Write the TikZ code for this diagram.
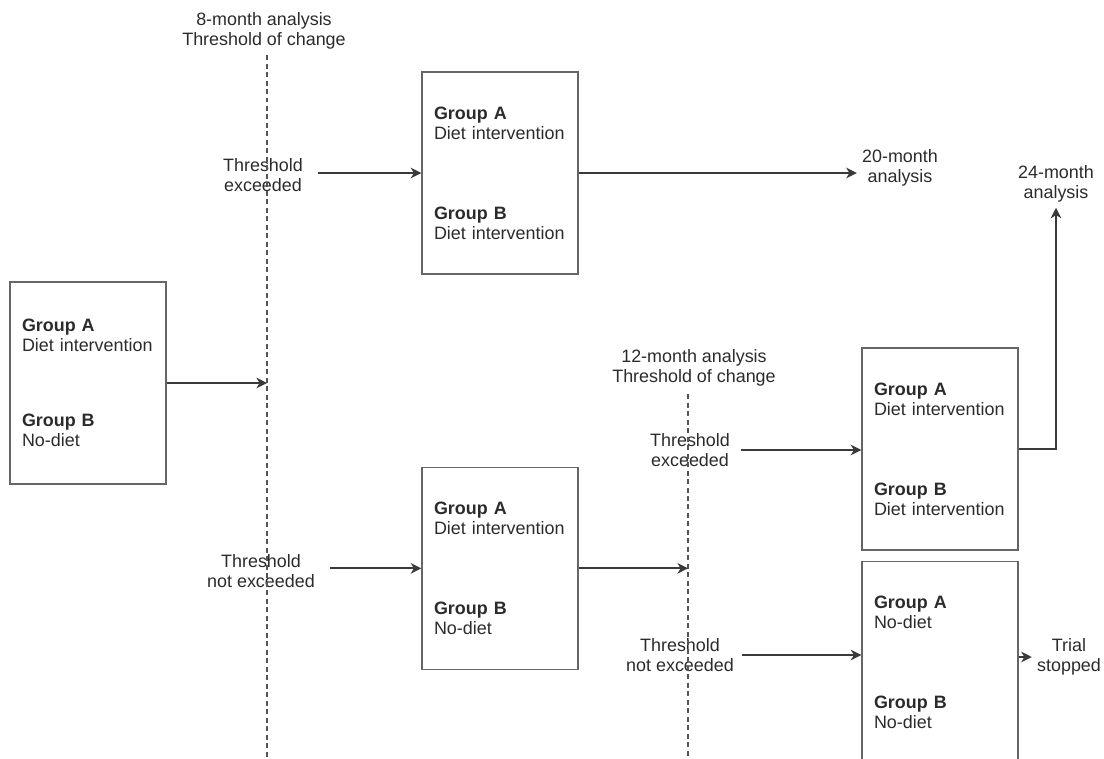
\documentclass[tikz,border=0pt]{standalone}
\usepackage{fontspec}
\setmainfont{Liberation Sans}
\usetikzlibrary{arrows.meta, positioning}
\definecolor{LineGray}{HTML}{3A3A3A}
\definecolor{BoxGray}{HTML}{666666}
\definecolor{TextGray}{HTML}{2B2B2B}
\definecolor{CutGray}{HTML}{555555}

\begin{document}
\begin{tikzpicture}[
    x=0.02cm, y=-0.02cm,
    font=\fontsize{10.2pt}{11.4pt}\selectfont,
    % Boxes holding both groups
    groupbox/.style={
            rectangle,
            draw=BoxGray,
            line width=0.8pt,
            minimum width=3.12cm,
            minimum height=4.04cm,
            text width=2.64cm,
            inner xsep=0.24cm,
            align=left,
            text=TextGray
        },
    % Labels beside the arrows
    tag/.style={
            align=center,
            inner sep=0.1cm,
            text=TextGray
        },
    % Arrows
    arrow/.style={
    -{Stealth[length=6pt,width=6pt,inset=1.8pt]},
    line width=1.2pt,
    color=LineGray
    },
    tagarrow/.style={
    arrow,
    shorten <=0.2cm
    },
    % Analysis time lines
    cutline/.style={
            dash pattern=on 0.1cm off 0.07cm,
            line width=0.6pt,
            color=CutGray
        }
    ]

    \useasboundingbox (0,0) rectangle (1104,758);

    % ========== START ==========
    \node[groupbox] (start) at (88,383) {\textbf{Group A}\\Diet intervention\\[1.1cm]\textbf{Group B}\\No-diet};

    % ========== 8-MONTH ANALYSIS ==========
    \node[tag] (an8) at (264,31) {8-month analysis\\Threshold of change};
    \coordinate (cut8top) at (267,55);
    \coordinate (cut8bot) at (267,760);
    \node[tag] (thrA) at (263,175) {Threshold\\exceeded};
    \node[tag] (thrB) at (261,571) {Threshold\\not exceeded};

    \node[groupbox] (boxUp) at (500,173) {\textbf{Group A}\\Diet intervention\\[1.2cm]\textbf{Group B}\\Diet intervention};
    \node[groupbox, below=3.84cm of boxUp] (boxLow) {\textbf{Group A}\\Diet intervention\\[1.2cm]\textbf{Group B}\\No-diet};

    \node[tag] (an20) at (900,168) {20-month\\analysis};

    % ========== 12-MONTH ANALYSIS ==========
    \node[tag] (an12) at (694,368) {12-month analysis\\Threshold of change};
    \coordinate (cut12top) at (688,394);
    \coordinate (cut12bot) at (688,760);
    \node[tag] (thrC) at (690,450) {Threshold\\exceeded};
    \node[tag] (thrD) at (680,655) {Threshold\\not exceeded};

    \node[groupbox] (boxUp12) at (940,449) {\textbf{Group A}\\Diet intervention\\[1.2cm]\textbf{Group B}\\Diet intervention};
    \node[groupbox, below=0.2cm of boxUp12] (boxLow12) {\textbf{Group A}\\No-diet\\[1.2cm]\textbf{Group B}\\No-diet};

    \node[tag] (an24) at (1056,184) {24-month\\analysis};
    \node[tag] (trial) at (1069,657) {Trial\\stopped};

    % ========== LINES ==========
    \draw[cutline] (cut8top) -- (cut8bot);
    \draw[cutline] (cut12top) -- (cut12bot);

    % ========== ARROWS ==========
    \draw[arrow] (start.east) -- (start.east -| cut8top);
    \draw[tagarrow] (thrA.east |- boxUp.west) -- (boxUp.west);
    \draw[tagarrow] (thrB.east |- boxLow.west) -- (boxLow.west);
    \draw[arrow] (boxUp.east) -- (boxUp.east -| an20.west);
    \draw[arrow] (boxLow.east) -- (boxLow.east -| cut12top);
    \draw[tagarrow, shorten <=0.12cm] (thrC.east) -- (thrC.east -| boxUp12.west);
    \draw[tagarrow, shorten <=0.06cm] (thrD.east) -- (thrD.east -| boxLow12.west);
    \draw[arrow] (boxUp12.east) -| (an24.south);
    \draw[arrow] (trial.west -| boxLow12.east) -- (trial.west);

\end{tikzpicture}
\end{document}
